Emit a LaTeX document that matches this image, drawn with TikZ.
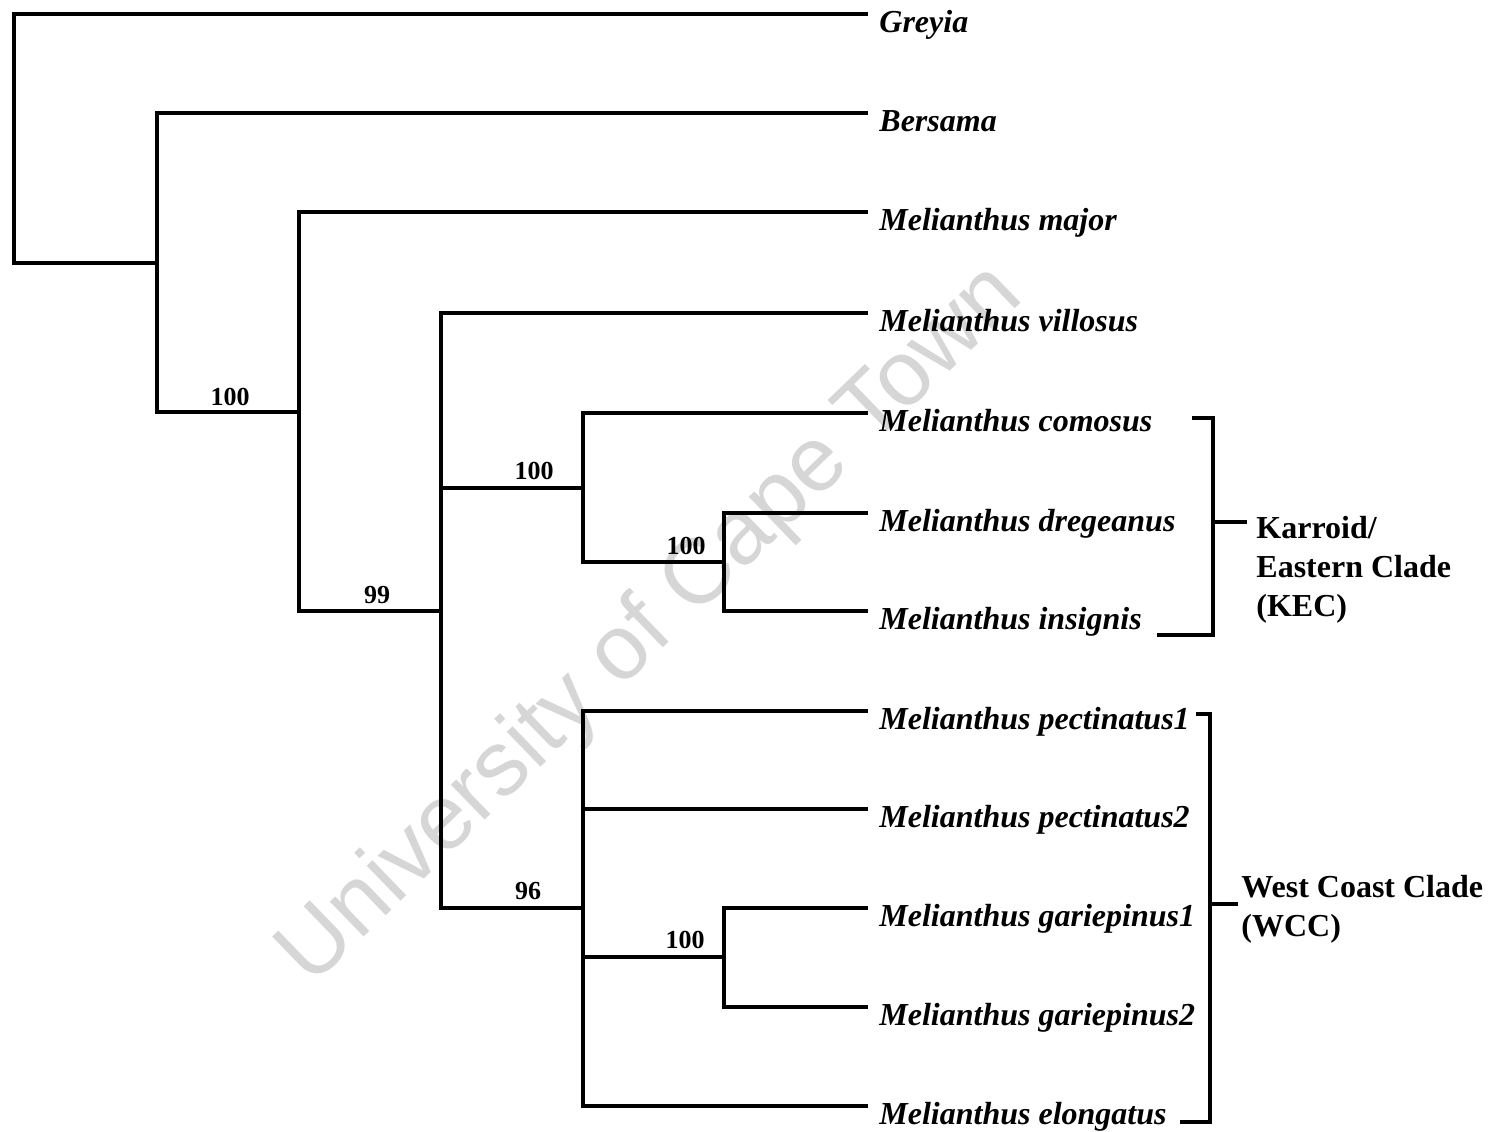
\documentclass[tikz,border=0pt]{standalone}
\usepackage{fontspec}
\setmainfont{Liberation Serif}
\newfontfamily\wmfont{Liberation Sans}
\begin{document}
\begin{tikzpicture}[x=0.5pt,y=-0.5pt,
  branch/.style={line width=1.8pt, line cap=rect, line join=miter},
  leaf/.style={anchor=base west, inner sep=0pt, font=\fontsize{16}{19.5}\selectfont\bfseries\itshape},
  boot/.style={anchor=base, inner sep=0pt, font=\fontsize{13}{15}\selectfont\bfseries},
  clade/.style={anchor=west, inner sep=0pt, align=left, font=\fontsize{16}{19.5}\selectfont\bfseries},
  wm/.style={text=black!16, font=\wmfont\fontsize{46}{50}\selectfont, inner sep=0pt}]
\useasboundingbox (0,0) rectangle (1499,1131);
% watermark
\node[wm, rotate=44] (watermark) at (652,626) {University of Cape Town};
% leaf tips
\coordinate (tGreyia) at (866,14);
\coordinate (tBersama) at (866,113);
\coordinate (tMajor) at (866,212);
\coordinate (tVillosus) at (866,313);
\coordinate (tComosus) at (866,413);
\coordinate (tDreg) at (866,513);
\coordinate (tInsig) at (866,611);
\coordinate (tPect1) at (866,711);
\coordinate (tPect2) at (866,809);
\coordinate (tGari1) at (866,908);
\coordinate (tGari2) at (866,1007);
\coordinate (tElong) at (866,1106);
% internal nodes
\coordinate (root) at (14,263);
\coordinate (A) at (157,263);
\coordinate (Ab) at (157,412);
\coordinate (B) at (299,412);
\coordinate (Bb) at (299,611);
\coordinate (C) at (441,611);
\coordinate (Cm) at (441,488);
\coordinate (Cb) at (441,908);
\coordinate (K) at (583,488);
\coordinate (Kb) at (583,562);
\coordinate (D) at (724,562);
\coordinate (Db) at (724,611);
\coordinate (W) at (583,908);
\coordinate (Wc) at (583,809);
\coordinate (Wd) at (583,957);
\coordinate (Wb) at (583,1106);
\coordinate (G) at (724,957);
\coordinate (Gb) at (724,1007);
% branches
\draw[branch] (tGreyia) -| (root) -- (A);
\draw[branch] (tBersama) -| (Ab) -- (B);
\draw[branch] (tMajor) -| (Bb) -- (C);
\draw[branch] (tVillosus) -| (Cb) -- (W);
\draw[branch] (Cm) -- (K);
\draw[branch] (tComosus) -| (Kb) -- (D);
\draw[branch] (tDreg) -| (Db) -- (tInsig);
\draw[branch] (tPect1) -| (Wb) -- (tElong);
\draw[branch] (Wc) -- (tPect2);
\draw[branch] (Wd) -- (G);
\draw[branch] (tGari1) -| (Gb) -- (tGari2);
% leaf labels
\node[leaf] (lGreyia) at (879,32) {Greyia};
\node[leaf] (lBersama) at (879,131) {Bersama};
\node[leaf] (lMajor) at (879,230) {Melianthus major};
\node[leaf] (lVillosus) at (879,331) {Melianthus villosus};
\node[leaf] (lComosus) at (879,431) {Melianthus comosus};
\node[leaf] (lDreg) at (879,531) {Melianthus dregeanus};
\node[leaf] (lInsig) at (879,629) {Melianthus insignis};
\node[leaf] (lPect1) at (879,729) {Melianthus pectinatus1};
\node[leaf] (lPect2) at (879,827) {Melianthus pectinatus2};
\node[leaf] (lGari1) at (879,926) {Melianthus gariepinus1};
\node[leaf] (lGari2) at (879,1025) {Melianthus gariepinus2};
\node[leaf] (lElong) at (879,1124) {Melianthus elongatus};
% bootstrap values
\node[boot] (bA) at (230,405) {100};
\node[boot] (bB) at (377,603) {99};
\node[boot] (bK) at (534,479) {100};
\node[boot] (bW) at (528,899) {96};
\node[boot] (bD) at (686,554) {100};
\node[boot] (bG) at (685,948) {100};
% clade brackets
\coordinate (kTop) at (1192,418);
\coordinate (kTopR) at (1213,418);
\coordinate (kBotR) at (1213,635);
\coordinate (kBot) at (1157,635);
\coordinate (kMid) at (1213,522);
\coordinate (kTick) at (1247,522);
\draw[branch, line cap=butt] (kTop) -- (kTopR) -- (kBotR) -- (kBot);
\draw[branch, line cap=butt] (kMid) -- (kTick);
\node[clade] (kec) at (1256,570) {Karroid/\\Eastern Clade\\(KEC)};
\coordinate (wTop) at (1196,714);
\coordinate (wTopR) at (1210,714);
\coordinate (wBotR) at (1210,1122);
\coordinate (wBot) at (1180,1122);
\coordinate (wMid) at (1210,904);
\coordinate (wTick) at (1238,904);
\draw[branch, line cap=butt] (wTop) -- (wTopR) -- (wBotR) -- (wBot);
\draw[branch, line cap=butt] (wMid) -- (wTick);
\node[clade] (wcc) at (1241,909) {West Coast Clade\\(WCC)};
\end{tikzpicture}
\end{document}
